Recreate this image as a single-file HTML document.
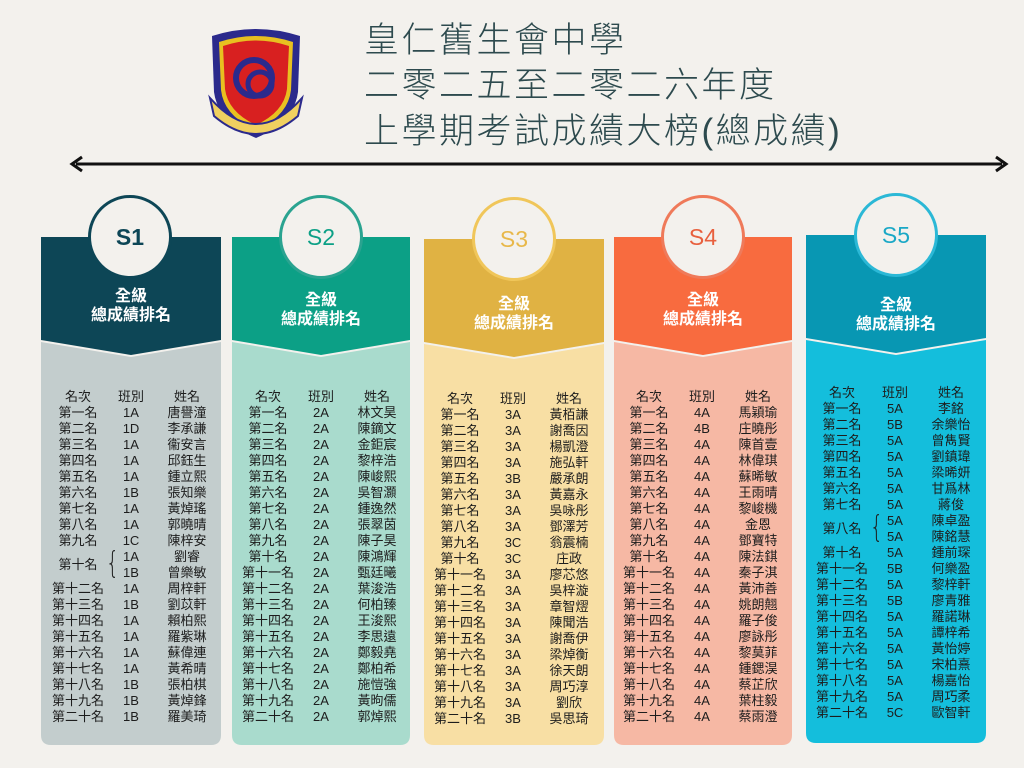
<!DOCTYPE html>
<html><head><meta charset="utf-8">
<style>
*{margin:0;padding:0;box-sizing:border-box}
body{width:1024px;height:768px;background:#f3f1ed;position:relative;overflow:hidden;font-family:"Liberation Sans","Noto Sans CJK TC",sans-serif}
.title{position:absolute;left:364px;font-family:"Liberation Sans","Noto Sans CJK TC",sans-serif;font-weight:300;font-size:35px;color:#2d4a4e;line-height:42px;letter-spacing:2.5px;white-space:nowrap}
.hd{position:absolute;width:180px;text-align:center;color:#fff;font-weight:bold;font-size:16px;line-height:19px}
.tbl{position:absolute;top:389px;font-size:13px;color:#1d1d1d;line-height:16px}
.r{display:flex;height:16px}
.r span,.tie span{display:block;text-align:center;white-space:nowrap}
.a{width:74px}.b{width:32px}.c{width:80px}
.tie{display:flex;height:32px;position:relative}
.tie .a{line-height:32px}
.br{position:absolute;left:62px;top:-2px;font-size:30px;font-weight:100;line-height:34px;font-family:"DejaVu Sans",sans-serif;transform:scaleX(0.7)}
.cl{position:absolute;width:84px;height:84px;border-radius:50%;background:#f3f1ed;border:3px solid;text-align:center;line-height:78px;font-size:23px}
</style></head><body>

<svg width="1024" height="768" style="position:absolute;left:0;top:0">
<line x1="76" y1="164" x2="1002" y2="164" stroke="#111" stroke-width="3"/>
<polyline points="82,157 72,164 82,171" fill="none" stroke="#111" stroke-width="3"/>
<polyline points="996,157 1006,164 996,171" fill="none" stroke="#111" stroke-width="3"/>
<path d="M212,36 Q256,22 300,36 L298,92 Q294,122 256,138 Q218,122 214,92 Z" fill="#2b2a8c"/>
<path d="M219,42 Q256,30 293,42 L291,90 Q288,116 256,130 Q224,116 221,90 Z" fill="#e8c020"/>
<path d="M223,46 Q256,35 289,46 L287,89 Q284,112 256,125 Q228,112 225,89 Z" fill="#d82020"/>
<circle cx="254" cy="78" r="18" fill="none" stroke="#2b2a8c" stroke-width="6"/>
<circle cx="260" cy="84" r="12" fill="none" stroke="#2b2a8c" stroke-width="5"/>
<path d="M210,98 Q256,150 302,98 L298,116 Q256,152 214,116 Z" fill="#f0d060" stroke="#2b2a8c" stroke-width="2"/>
<path d="M41,342 L131,357 L221,342 L221,735 Q221,745 211,745 L51,745 Q41,745 41,735 Z" fill="#c3cdcd"/>
<path d="M41,237 L221,237 L221,340 L131,355 L41,340 Z" fill="#0d4656"/>
<path d="M232,342 L321,357 L410,342 L410,735 Q410,745 400,745 L242,745 Q232,745 232,735 Z" fill="#a9dbcd"/>
<path d="M232,237 L410,237 L410,340 L321,355 L232,340 Z" fill="#0ca086"/>
<path d="M424,344 L514,359 L604,344 L604,735 Q604,745 594,745 L434,745 Q424,745 424,735 Z" fill="#f8dfa4"/>
<path d="M424,239 L604,239 L604,342 L514,357 L424,342 Z" fill="#e0b243"/>
<path d="M614,342 L703,357 L792,342 L792,735 Q792,745 782,745 L624,745 Q614,745 614,735 Z" fill="#f6b8a4"/>
<path d="M614,237 L792,237 L792,340 L703,355 L614,340 Z" fill="#f86b3f"/>
<path d="M806,340 L896,355 L986,340 L986,733 Q986,743 976,743 L816,743 Q806,743 806,733 Z" fill="#14bedc"/>
<path d="M806,235 L986,235 L986,338 L896,353 L806,338 Z" fill="#0897b3"/>
</svg>

<div class="title" style="top:20px">皇仁舊生會中學</div>
<div class="title" style="top:65px">二零二五至二零二六年度</div>
<div class="title" style="top:111px">上學期考試成績大榜(總成績)</div>

<div class="cl" style="left:88px;top:195px;border-color:#0d4656;color:#0d4656;font-weight:bold">S1</div>
<div class="cl" style="left:279px;top:195px;border-color:#2aa390;color:#0ca086">S2</div>
<div class="cl" style="left:472px;top:197px;border-color:#f0c65a;color:#e8b84a">S3</div>
<div class="cl" style="left:661px;top:195px;border-color:#ef7a5a;color:#e8603e">S4</div>
<div class="cl" style="left:854px;top:193px;border-color:#2bb8d6;color:#1aa8c6">S5</div>

<div class="hd" style="left:41px;top:287px">全級<br>總成績排名</div>
<div class="hd" style="left:231px;top:291px">全級<br>總成績排名</div>
<div class="hd" style="left:424px;top:295px">全級<br>總成績排名</div>
<div class="hd" style="left:613px;top:291px">全級<br>總成績排名</div>
<div class="hd" style="left:806px;top:296px">全級<br>總成績排名</div>

<div class="tbl" style="left:41px">
<div class="r"><span class="a">名次</span><span class="b">班別</span><span class="c">姓名</span></div>
<div class="r"><span class="a">第一名</span><span class="b">1A</span><span class="c">唐譽潼</span></div>
<div class="r"><span class="a">第二名</span><span class="b">1D</span><span class="c">李承謙</span></div>
<div class="r"><span class="a">第三名</span><span class="b">1A</span><span class="c">衞安言</span></div>
<div class="r"><span class="a">第四名</span><span class="b">1A</span><span class="c">邱鈺生</span></div>
<div class="r"><span class="a">第五名</span><span class="b">1A</span><span class="c">鍾立熙</span></div>
<div class="r"><span class="a">第六名</span><span class="b">1B</span><span class="c">張知樂</span></div>
<div class="r"><span class="a">第七名</span><span class="b">1A</span><span class="c">黃焯瑤</span></div>
<div class="r"><span class="a">第八名</span><span class="b">1A</span><span class="c">郭曉晴</span></div>
<div class="r"><span class="a">第九名</span><span class="b">1C</span><span class="c">陳梓安</span></div>
<div class="tie"><span class="a">第十名</span><div class="br">{</div><div><div class="r"><span class="b">1A</span><span class="c">劉睿</span></div><div class="r"><span class="b">1B</span><span class="c">曾樂敏</span></div></div></div>
<div class="r"><span class="a">第十二名</span><span class="b">1A</span><span class="c">周梓軒</span></div>
<div class="r"><span class="a">第十三名</span><span class="b">1B</span><span class="c">劉苡軒</span></div>
<div class="r"><span class="a">第十四名</span><span class="b">1A</span><span class="c">賴柏熙</span></div>
<div class="r"><span class="a">第十五名</span><span class="b">1A</span><span class="c">羅紫琳</span></div>
<div class="r"><span class="a">第十六名</span><span class="b">1A</span><span class="c">蘇偉連</span></div>
<div class="r"><span class="a">第十七名</span><span class="b">1A</span><span class="c">黃希晴</span></div>
<div class="r"><span class="a">第十八名</span><span class="b">1B</span><span class="c">張柏棋</span></div>
<div class="r"><span class="a">第十九名</span><span class="b">1B</span><span class="c">黃焯鋒</span></div>
<div class="r"><span class="a">第二十名</span><span class="b">1B</span><span class="c">羅美琦</span></div>
</div>

<div class="tbl" style="left:231px">
<div class="r"><span class="a">名次</span><span class="b">班別</span><span class="c">姓名</span></div>
<div class="r"><span class="a">第一名</span><span class="b">2A</span><span class="c">林文昊</span></div>
<div class="r"><span class="a">第二名</span><span class="b">2A</span><span class="c">陳鏑文</span></div>
<div class="r"><span class="a">第三名</span><span class="b">2A</span><span class="c">金鉅宸</span></div>
<div class="r"><span class="a">第四名</span><span class="b">2A</span><span class="c">黎梓浩</span></div>
<div class="r"><span class="a">第五名</span><span class="b">2A</span><span class="c">陳峻熙</span></div>
<div class="r"><span class="a">第六名</span><span class="b">2A</span><span class="c">吳智灝</span></div>
<div class="r"><span class="a">第七名</span><span class="b">2A</span><span class="c">鍾逸然</span></div>
<div class="r"><span class="a">第八名</span><span class="b">2A</span><span class="c">張翠茵</span></div>
<div class="r"><span class="a">第九名</span><span class="b">2A</span><span class="c">陳子昊</span></div>
<div class="r"><span class="a">第十名</span><span class="b">2A</span><span class="c">陳鴻輝</span></div>
<div class="r"><span class="a">第十一名</span><span class="b">2A</span><span class="c">甄廷曦</span></div>
<div class="r"><span class="a">第十二名</span><span class="b">2A</span><span class="c">葉浚浩</span></div>
<div class="r"><span class="a">第十三名</span><span class="b">2A</span><span class="c">何柏臻</span></div>
<div class="r"><span class="a">第十四名</span><span class="b">2A</span><span class="c">王浚熙</span></div>
<div class="r"><span class="a">第十五名</span><span class="b">2A</span><span class="c">李思遠</span></div>
<div class="r"><span class="a">第十六名</span><span class="b">2A</span><span class="c">鄭毅堯</span></div>
<div class="r"><span class="a">第十七名</span><span class="b">2A</span><span class="c">鄭柏希</span></div>
<div class="r"><span class="a">第十八名</span><span class="b">2A</span><span class="c">施愷強</span></div>
<div class="r"><span class="a">第十九名</span><span class="b">2A</span><span class="c">黃昫儒</span></div>
<div class="r"><span class="a">第二十名</span><span class="b">2A</span><span class="c">郭焯熙</span></div>
</div>

<div class="tbl" style="left:423px;top:391px">
<div class="r"><span class="a">名次</span><span class="b">班別</span><span class="c">姓名</span></div>
<div class="r"><span class="a">第一名</span><span class="b">3A</span><span class="c">黃栢謙</span></div>
<div class="r"><span class="a">第二名</span><span class="b">3A</span><span class="c">謝喬因</span></div>
<div class="r"><span class="a">第三名</span><span class="b">3A</span><span class="c">楊凱澄</span></div>
<div class="r"><span class="a">第四名</span><span class="b">3A</span><span class="c">施弘軒</span></div>
<div class="r"><span class="a">第五名</span><span class="b">3B</span><span class="c">嚴承朗</span></div>
<div class="r"><span class="a">第六名</span><span class="b">3A</span><span class="c">黃嘉永</span></div>
<div class="r"><span class="a">第七名</span><span class="b">3A</span><span class="c">吳咏彤</span></div>
<div class="r"><span class="a">第八名</span><span class="b">3A</span><span class="c">鄧澤芳</span></div>
<div class="r"><span class="a">第九名</span><span class="b">3C</span><span class="c">翁震楠</span></div>
<div class="r"><span class="a">第十名</span><span class="b">3C</span><span class="c">庄政</span></div>
<div class="r"><span class="a">第十一名</span><span class="b">3A</span><span class="c">廖芯悠</span></div>
<div class="r"><span class="a">第十二名</span><span class="b">3A</span><span class="c">吳梓漩</span></div>
<div class="r"><span class="a">第十三名</span><span class="b">3A</span><span class="c">章智熤</span></div>
<div class="r"><span class="a">第十四名</span><span class="b">3A</span><span class="c">陳聞浩</span></div>
<div class="r"><span class="a">第十五名</span><span class="b">3A</span><span class="c">謝喬伊</span></div>
<div class="r"><span class="a">第十六名</span><span class="b">3A</span><span class="c">梁焯衡</span></div>
<div class="r"><span class="a">第十七名</span><span class="b">3A</span><span class="c">徐天朗</span></div>
<div class="r"><span class="a">第十八名</span><span class="b">3A</span><span class="c">周巧淳</span></div>
<div class="r"><span class="a">第十九名</span><span class="b">3A</span><span class="c">劉欣</span></div>
<div class="r"><span class="a">第二十名</span><span class="b">3B</span><span class="c">吳思琦</span></div>
</div>

<div class="tbl" style="left:612px">
<div class="r"><span class="a">名次</span><span class="b">班別</span><span class="c">姓名</span></div>
<div class="r"><span class="a">第一名</span><span class="b">4A</span><span class="c">馬穎瑜</span></div>
<div class="r"><span class="a">第二名</span><span class="b">4B</span><span class="c">庄曉彤</span></div>
<div class="r"><span class="a">第三名</span><span class="b">4A</span><span class="c">陳首壹</span></div>
<div class="r"><span class="a">第四名</span><span class="b">4A</span><span class="c">林偉琪</span></div>
<div class="r"><span class="a">第五名</span><span class="b">4A</span><span class="c">蘇晞敏</span></div>
<div class="r"><span class="a">第六名</span><span class="b">4A</span><span class="c">王雨晴</span></div>
<div class="r"><span class="a">第七名</span><span class="b">4A</span><span class="c">黎峻機</span></div>
<div class="r"><span class="a">第八名</span><span class="b">4A</span><span class="c">金恩</span></div>
<div class="r"><span class="a">第九名</span><span class="b">4A</span><span class="c">鄧寶特</span></div>
<div class="r"><span class="a">第十名</span><span class="b">4A</span><span class="c">陳法錤</span></div>
<div class="r"><span class="a">第十一名</span><span class="b">4A</span><span class="c">秦子淇</span></div>
<div class="r"><span class="a">第十二名</span><span class="b">4A</span><span class="c">黃沛善</span></div>
<div class="r"><span class="a">第十三名</span><span class="b">4A</span><span class="c">姚朗翹</span></div>
<div class="r"><span class="a">第十四名</span><span class="b">4A</span><span class="c">羅子俊</span></div>
<div class="r"><span class="a">第十五名</span><span class="b">4A</span><span class="c">廖詠彤</span></div>
<div class="r"><span class="a">第十六名</span><span class="b">4A</span><span class="c">黎莫菲</span></div>
<div class="r"><span class="a">第十七名</span><span class="b">4A</span><span class="c">鍾鍶淏</span></div>
<div class="r"><span class="a">第十八名</span><span class="b">4A</span><span class="c">蔡芷欣</span></div>
<div class="r"><span class="a">第十九名</span><span class="b">4A</span><span class="c">葉柱毅</span></div>
<div class="r"><span class="a">第二十名</span><span class="b">4A</span><span class="c">蔡雨澄</span></div>
</div>

<div class="tbl" style="left:805px;top:385px">
<div class="r"><span class="a">名次</span><span class="b">班別</span><span class="c">姓名</span></div>
<div class="r"><span class="a">第一名</span><span class="b">5A</span><span class="c">李銘</span></div>
<div class="r"><span class="a">第二名</span><span class="b">5B</span><span class="c">余樂怡</span></div>
<div class="r"><span class="a">第三名</span><span class="b">5A</span><span class="c">曾雋賢</span></div>
<div class="r"><span class="a">第四名</span><span class="b">5A</span><span class="c">劉鎮瑋</span></div>
<div class="r"><span class="a">第五名</span><span class="b">5A</span><span class="c">梁晞妍</span></div>
<div class="r"><span class="a">第六名</span><span class="b">5A</span><span class="c">甘爲林</span></div>
<div class="r"><span class="a">第七名</span><span class="b">5A</span><span class="c">蔣俊</span></div>
<div class="tie"><span class="a">第八名</span><div class="br">{</div><div><div class="r"><span class="b">5A</span><span class="c">陳卓盈</span></div><div class="r"><span class="b">5A</span><span class="c">陳銘慧</span></div></div></div>
<div class="r"><span class="a">第十名</span><span class="b">5A</span><span class="c">鍾前琛</span></div>
<div class="r"><span class="a">第十一名</span><span class="b">5B</span><span class="c">何樂盈</span></div>
<div class="r"><span class="a">第十二名</span><span class="b">5A</span><span class="c">黎梓軒</span></div>
<div class="r"><span class="a">第十三名</span><span class="b">5B</span><span class="c">廖青雅</span></div>
<div class="r"><span class="a">第十四名</span><span class="b">5A</span><span class="c">羅諾琳</span></div>
<div class="r"><span class="a">第十五名</span><span class="b">5A</span><span class="c">譚梓希</span></div>
<div class="r"><span class="a">第十六名</span><span class="b">5A</span><span class="c">黃怡婷</span></div>
<div class="r"><span class="a">第十七名</span><span class="b">5A</span><span class="c">宋柏熹</span></div>
<div class="r"><span class="a">第十八名</span><span class="b">5A</span><span class="c">楊嘉怡</span></div>
<div class="r"><span class="a">第十九名</span><span class="b">5A</span><span class="c">周巧柔</span></div>
<div class="r"><span class="a">第二十名</span><span class="b">5C</span><span class="c">歐智軒</span></div>
</div>

</body></html>
